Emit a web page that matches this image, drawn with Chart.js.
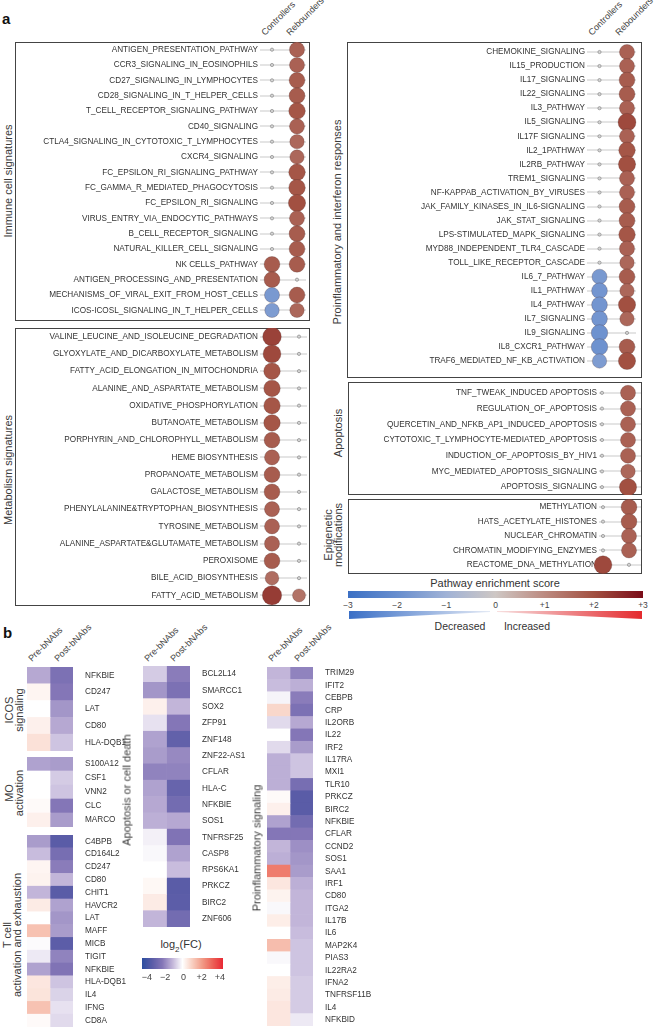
<!DOCTYPE html>
<html><head><meta charset="utf-8">
<script src="https://cdn.jsdelivr.net/npm/chart.js@4.4.1/dist/chart.umd.min.js"></script>
<style>
body{margin:0;background:#fff;}
#root{position:relative;width:660px;height:1027px;overflow:hidden;font-family:"Liberation Sans",Arial,sans-serif;color:#333;}
</style></head>
<body><div id="root"></div>
<script>
// ---------------- DATA: panel a (pathway enrichment scores) ----------------
const dotColumns = ['Controllers', 'Rebounders'];

const immuneLabels = ['ANTIGEN_PRESENTATION_PATHWAY','CCR3_SIGNALING_IN_EOSINOPHILS','CD27_SIGNALING_IN_LYMPHOCYTES','CD28_SIGNALING_IN_T_HELPER_CELLS','T_CELL_RECEPTOR_SIGNALING_PATHWAY','CD40_SIGNALING','CTLA4_SIGNALING_IN_CYTOTOXIC_T_LYMPHOCYTES','CXCR4_SIGNALING','FC_EPSILON_RI_SIGNALING_PATHWAY','FC_GAMMA_R_MEDIATED_PHAGOCYTOSIS','FC_EPSILON_RI_SIGNALING','VIRUS_ENTRY_VIA_ENDOCYTIC_PATHWAYS','B_CELL_RECEPTOR_SIGNALING','NATURAL_KILLER_CELL_SIGNALING','NK CELLS_PATHWAY','ANTIGEN_PROCESSING_AND_PRESENTATION','MECHANISMS_OF_VIRAL_EXIT_FROM_HOST_CELLS','ICOS-ICOSL_SIGNALING_IN_T_HELPER_CELLS'];
const immuneControllers = [0,0,0,0,0,0,0,0,0,0,0,0,0,0,1.8,1.8,-1.7,-1.6];
const immuneRebounders  = [1.7,1.7,1.8,1.8,1.9,1.7,1.6,1.6,1.9,1.9,2.0,1.7,1.8,1.8,1.8,0,1.8,1.6];

const metabLabels = ['VALINE_LEUCINE_AND_ISOLEUCINE_DEGRADATION','GLYOXYLATE_AND_DICARBOXYLATE_METABOLISM','FATTY_ACID_ELONGATION_IN_MITOCHONDRIA','ALANINE_AND_ASPARTATE_METABOLISM','OXIDATIVE_PHOSPHORYLATION','BUTANOATE_METABOLISM','PORPHYRIN_AND_CHLOROPHYLL_METABOLISM','HEME BIOSYNTHESIS','PROPANOATE_METABOLISM','GALACTOSE_METABOLISM','PHENYLALANINE&TRYPTOPHAN_BIOSYNTHESIS','TYROSINE_METABOLISM','ALANINE_ASPARTATE&GLUTAMATE_METABOLISM','PEROXISOME','BILE_ACID_BIOSYNTHESIS','FATTY_ACID_METABOLISM'];
const metabControllers = [2.2,2.1,1.9,1.9,1.9,1.9,1.8,1.7,1.8,1.8,1.7,1.7,1.7,1.8,1.5,2.3];
const metabRebounders  = [0,0,0,0,0,0,0,0,0,0,0,0,0,0,0,1.4];

const inflamLabels = ['CHEMOKINE_SIGNALING','IL15_PRODUCTION','IL17_SIGNALING','IL22_SIGNALING','IL3_PATHWAY','IL5_SIGNALING','IL17F SIGNALING','IL2_1PATHWAY','IL2RB_PATHWAY','TREM1_SIGNALING','NF-KAPPAB_ACTIVATION_BY_VIRUSES','JAK_FAMILY_KINASES_IN_IL6-SIGNALING','JAK_STAT_SIGNALING','LPS-STIMULATED_MAPK_SIGNALING','MYD88_INDEPENDENT_TLR4_CASCADE','TOLL_LIKE_RECEPTOR_CASCADE','IL6_7_PATHWAY','IL1_PATHWAY','IL4_PATHWAY','IL7_SIGNALING','IL9_SIGNALING','IL8_CXCR1_PATHWAY','TRAF6_MEDIATED_NF_KB_ACTIVATION'];
const inflamControllers = [0,0,0,0,0,0,0,0,0,0,0,0,0,0,0,0,-1.7,-1.8,-1.8,-1.8,-1.9,-1.9,-1.6];
const inflamRebounders  = [1.7,1.7,1.8,1.8,1.7,2.1,1.7,1.9,2.0,1.7,1.7,1.8,1.8,1.9,1.7,1.6,1.8,1.6,2.0,1.6,0,1.8,2.0];

const apopLabels = ['TNF_TWEAK_INDUCED APOPTOSIS','REGULATION_OF_APOPTOSIS','QUERCETIN_AND_NFKB_AP1_INDUCED_APOPTOSIS','CYTOTOXIC_T_LYMPHOCYTE-MEDIATED_APOPTOSIS','INDUCTION_OF_APOPTOSIS_BY_HIV1','MYC_MEDIATED_APOPTOSIS_SIGNALING','APOPTOSIS_SIGNALING'];
const apopControllers = [0,0,0,0,0,0,0];
const apopRebounders  = [1.7,1.7,1.7,1.7,1.7,1.6,2.0];

const epiLabels = ['METHYLATION','HATS_ACETYLATE_HISTONES','NUCLEAR_CHROMATIN','CHROMATIN_MODIFYING_ENZYMES','REACTOME_DNA_METHYLATION'];
const epiControllers = [0,0,0,0,2.1];
const epiRebounders  = [1.8,1.8,1.7,1.7,0];

const enrichTicks = [-3,-2,-1,0,1,2,3];

// ---------------- DATA: panel b (log2 fold change) ----------------
const heatColumns = ['Pre-bNAbs', 'Post-bNAbs'];

const icosGenes = ['NFKBIE','CD247','LAT','CD80','HLA-DQB1'];
const icosPre   = [-1.2, 0.2, 0.0, 0.3, 0.6];
const icosPost  = [-2.2,-2.0,-1.5,-1.2,-0.8];

const moGenes = ['S100A12','CSF1','VNN2','CLC','MARCO'];
const moPre   = [-1.3, 0.0, 0.0, 0.1, 0.3];
const moPost  = [-1.4,-0.7,-0.8,-2.0,-1.4];

const tcellGenes = ['C4BPB','CD164L2','CD247','CD80','CHIT1','HAVCR2','LAT','MAFF','MICB','TIGIT','NFKBIE','HLA-DQB1','IL4','IFNG','CD8A'];
const tcellPre   = [-1.4,-0.9, 0.2, 0.25,-1.0, 0.4, 0.0, 1.2,-0.05,-0.3,-1.3, 0.5, 0.55, 1.2, 0.1];
const tcellPost  = [-3.0,-2.3,-1.9,-1.0,-3.0,-1.3,-1.5,-1.4,-2.95,-1.8,-2.1,-0.8,-0.6,-0.4,-0.5];

const apopGenes = ['BCL2L14','SMARCC1','SOX2','ZFP91','ZNF148','ZNF22-AS1','CFLAR','HLA-C','NFKBIE','SOS1','TNFRSF25','CASP8','RPS6KA1','PRKCZ','BIRC2','ZNF606'];
const apopPre   = [-0.7,-1.5, 0.3,-0.4,-1.3,-1.4,-1.8,-1.3,-1.2,-1.1,-0.2,-0.1, 0.0, 0.15, 0.4,-1.0];
const apopPost  = [-1.9,-2.2,-1.0,-2.0,-2.8,-1.7,-1.8,-2.7,-2.4,-1.2,-2.1,-1.3,-0.9,-3.0,-2.95,-2.4];

const proGenes = ['TRIM29','IFIT2','CEBPB','CRP','IL2ORB','IL22','IRF2','IL17RA','MXI1','TLR10','PRKCZ','BIRC2','NFKBIE','CFLAR','CCND2','SOS1','SAA1','IRF1','CD80','ITGA2','IL17B','IL6','MAP2K4','PIAS3','IL22RA2','IFNA2','TNFRSF11B','IL4','NFKBID'];
const proPre    = [-1.0,-0.9,-0.15, 0.8,-0.5, 0.0,-0.5,-1.1,-1.1,-1.1, 0.1, 0.3,-1.3,-2.0,-1.0,-1.1, 2.5, 0.5, 0.25,-0.1, 0.35, 0.0, 1.3,-0.1, 0.0, 0.35, 0.4, 0.5, 0.5];
const proPost   = [-1.8,-1.1,-1.9,-2.2,-1.2,-2.0,-1.4,-0.8,-0.8,-2.3,-3.0,-3.0,-2.4,-2.0,-1.6,-1.5,-1.4,-1.1,-1.0,-1.0,-1.0,-0.9,-0.8,-0.8,-0.8,-0.7,-0.7,-0.7,-0.3];

const fcTicks = [-4,-2,0,2,4];

// ---------------- helpers ----------------
const FONT = '"Liberation Sans", Arial, sans-serif';
const root = document.getElementById('root');
function el(tag, css, html){const e=document.createElement(tag);e.style.cssText='position:absolute;white-space:nowrap;'+css;if(html!=null)e.innerHTML=html;root.appendChild(e);return e;}
function interp(stops, v){
  if (v <= stops[0][0]) return stops[0][1];
  for (let i=1;i<stops.length;i++){
    if (v <= stops[i][0]){const a=stops[i-1],b=stops[i];const t=(v-a[0])/(b[0]-a[0]);return a[1].map((c,k)=>c+(b[1][k]-c)*t);}
  }
  return stops[stops.length-1][1];
}
const rgb = c => `rgb(${c.map(Math.round).join(',')})`;
const ENR = [[-3,[60,112,196]],[-2,[104,142,206]],[-1,[160,178,214]],[0,[206,199,196]],[1,[188,138,128]],[2,[162,80,65]],[3,[122,12,24]]];
const FC  = [[-4,[44,78,160]],[-3,[90,92,167]],[-2,[132,118,183]],[-1,[194,181,217]],[0,[255,255,255]],[1,[248,205,190]],[2,[241,152,132]],[3,[236,96,86]],[4,[232,40,52]]];

function canvasAt(x,y,w,h){const c=document.createElement('canvas');c.width=w;c.height=h;c.style.cssText=`position:absolute;left:${x}px;top:${y}px;width:${w}px;height:${h}px;`;root.appendChild(c);return c;}
// fix the axis width and drop the half-label padding Chart.js adds above/below a vertical axis
const fitY = w => s => { s.width = w; s.paddingTop = 0; s.paddingBottom = 0; };

const isSmall = v => Math.abs(v) < 0.3;
// o.al/o.ar: page x of plot area, o.c0/o.c1: page x of the two column centres (layout only)
function dotChart(o){
  el('div', `left:${o.x}px;top:${o.y}px;width:${o.w}px;height:${o.h}px;border:1px solid #444;box-sizing:border-box;`);
  const cv = canvasAt(o.x,o.y,o.w,o.h);
  const step = o.c1 - o.c0;
  const xmin = -(o.c0 - o.al)/step, xmax = 1 + (o.ar - o.c1)/step;
  const mk = (ci, vals) => ({
    label: dotColumns[ci], clip:false,
    data: o.labels.map((l,i)=>({x:ci, y:l, v:vals[i]})),
    pointRadius: ctx => ctx.raw ? (isSmall(ctx.raw.v) ? 1.6 : 1.6 + 3.5*Math.abs(ctx.raw.v)) : 2,
    pointBackgroundColor: ctx => ctx.raw ? (isSmall(ctx.raw.v) ? '#d4d4d4' : rgb(interp(ENR, ctx.raw.v))) : '#ccc',
    pointBorderColor: ctx => ctx.raw && isSmall(ctx.raw.v) ? '#8a8a8a' : 'rgba(70,40,40,0.35)',
    pointBorderWidth: 0.7
  });
  new Chart(cv, {type:'scatter', data:{datasets:[mk(0,o.c), mk(1,o.r)]},
    options:{responsive:false, animation:false, events:[],
      layout:{autoPadding:false, padding:{top:o.pt,bottom:o.pb,left:0,right:o.x+o.w-o.ar}},
      plugins:{legend:{display:false},tooltip:{enabled:false}},
      scales:{
        x:{type:'linear', min:xmin, max:xmax, display:false},
        y:{type:'category', labels:o.labels, offset:true,
           grid:{color:'#e4e4e4', lineWidth:2, drawTicks:false}, border:{display:false},
           ticks:{autoSkip:false, font:{family:FONT,size:8.2}, color:'#333', padding:2},
           afterFit: fitY(o.al - o.x)}
      }}});
}

function heatChart(o){
  const w = 2*o.cw + o.lw;
  const cv = canvasAt(o.x, o.y, w, o.h);
  const mk = (vals, i) => ({label: heatColumns[i], data: vals.map(()=>1),
    backgroundColor: vals.map(v => rgb(interp(FC, v))), borderWidth:0,
    barPercentage:1, categoryPercentage:1});
  new Chart(cv, {type:'bar', data:{labels:o.genes, datasets:[mk(o.pre,0), mk(o.post,1)]},
    options:{indexAxis:'y', responsive:false, animation:false, events:[],
      layout:{autoPadding:false, padding:0},
      plugins:{legend:{display:false},tooltip:{enabled:false}},
      scales:{
        x:{type:'linear', stacked:true, min:0, max:2, display:false},
        y:{type:'category', stacked:true, position:'right',
           grid:{display:false}, border:{display:false},
           ticks:{autoSkip:false, font:{family:FONT,size:8.2}, color:'#333', padding:4},
           afterFit: fitY(o.lw)}
      }}});
}

function vText(html, cx, cy, size, lh){
  el('div', `left:${cx}px;top:${cy}px;font-size:${size}px;line-height:${lh||size+2}px;text-align:center;color:#3a3a3a;transform:translate(-50%,-50%) rotate(-90deg);`, html);
}
function dText(txt, x, y, size){
  el('div', `left:${x}px;top:${y-11}px;font-size:${size}px;line-height:11px;color:#444;transform-origin:0 100%;transform:rotate(-45deg);`, txt);
}
function cText(html, cx, cy, size, color){
  el('div', `left:${cx}px;top:${cy}px;font-size:${size}px;line-height:${size+2}px;color:${color||'#333'};transform:translate(-50%,-50%);`, html);
}
const fmt = t => t===0 ? '0' : (t>0 ? '+'+t : '\u2212'+Math.abs(t));

// ---------------- panel a ----------------
el('div','left:2px;top:10px;font-size:15px;font-weight:bold;color:#111;','a');
dText(dotColumns[0], 267, 38, 9); dText(dotColumns[1], 292, 38, 9);
dText(dotColumns[0], 594, 38, 9); dText(dotColumns[1], 621, 38, 9);

dotChart({x:15,y:42,w:295,h:279,labels:immuneLabels,c:immuneControllers,r:immuneRebounders,al:260,c0:272,c1:297,ar:306,pt:0,pb:3});
dotChart({x:15,y:328,w:295,h:278,labels:metabLabels,c:metabControllers,r:metabRebounders,al:260,c0:272,c1:299,ar:307,pt:0,pb:2});
dotChart({x:347,y:42,w:295,h:336,labels:inflamLabels,c:inflamControllers,r:inflamRebounders,al:587,c0:599.5,c1:627,ar:636,pt:3,pb:10});
dotChart({x:348,y:382,w:294,h:113,labels:apopLabels,c:apopControllers,r:apopRebounders,al:599,c0:602,c1:628,ar:641,pt:3,pb:0});
dotChart({x:348,y:499,w:294,h:75,labels:epiLabels,c:epiControllers,r:epiRebounders,al:599,c0:603,c1:629,ar:641,pt:1,pb:2});

vText('Immune cell signatures', 8, 181, 11);
vText('Metabolism signatures', 8, 470, 11);
vText('Proinflammatory and interferon responses', 337, 222, 11);
vText('Apoptosis', 338, 433, 11);
vText('Epigenetic<br>modifications', 333, 535, 11, 10);

// enrichment colour bar
(function(){
  const x0=348, w=295;
  const grad = ENR.map(s=>`${rgb(s[1])} ${((s[0]+3)/6*100).toFixed(1)}%`).join(',');
  cText('Pathway enrichment score', 495, 583, 11);
  el('div', `left:${x0}px;top:591px;width:${w}px;height:7px;background:linear-gradient(to right,${grad});`);
  enrichTicks.forEach(t=>cText(fmt(t), x0+(t+3)/6*w, 605, 8.5, '#444'));
  el('div', `left:349px;top:611px;width:141px;height:8px;background:linear-gradient(to right,#3a6fc6,#e4eaf5);clip-path:polygon(0 0,100% 0,100% 12%,0 100%);`);
  el('div', `left:497px;top:611px;width:145px;height:8px;background:linear-gradient(to right,#f7e0e0,#e42a2e);clip-path:polygon(0 0,100% 0,100% 100%,0 12%);`);
  cText('Decreased', 460, 626, 10.5);
  cText('Increased', 527, 626, 10.5);
})();

// ---------------- panel b ----------------
el('div','left:3px;top:624px;font-size:15px;font-weight:bold;color:#111;','b');
[27,143,267].forEach(x=>{ dText(heatColumns[0], x+7, 664, 9); dText(heatColumns[1], x+33, 664, 9); });

heatChart({x:27,y:667,cw:23,h:84,lw:70,genes:icosGenes,pre:icosPre,post:icosPost});
heatChart({x:27,y:757,cw:23,h:70,lw:70,genes:moGenes,pre:moPre,post:moPost});
heatChart({x:27,y:835,cw:23,h:192,lw:70,genes:tcellGenes,pre:tcellPre,post:tcellPost});
heatChart({x:143,y:666,cw:23.5,h:261,lw:70,genes:apopGenes,pre:apopPre,post:apopPost});
heatChart({x:267,y:667,cw:23,h:359,lw:70,genes:proGenes,pre:proPre,post:proPost});

vText('ICOS<br>signaling', 14, 710, 11, 10);
vText('MO<br>activation', 14, 793, 11, 10);
vText('T cell<br>activation and exhaustion', 12, 935, 11, 10);
vText('Apoptosis or cell death', 127, 790, 11);
vText('Proinflammatory signaling', 257, 848, 11);

// log2FC colour bar
(function(){
  const x0=142, w=81;
  const grad = FC.map(s=>`${rgb(s[1])} ${((s[0]+4)/8*100).toFixed(1)}%`).join(',');
  cText('log<sub style="font-size:8px">2</sub>(FC)', 181, 947, 11);
  el('div', `left:${x0}px;top:958px;width:${w}px;height:11px;background:linear-gradient(to right,${grad});`);
  fcTicks.forEach(t=>cText(fmt(t), 147+(t+4)/8*73, 977, 9, '#444'));
})();
</script>
</body></html>
